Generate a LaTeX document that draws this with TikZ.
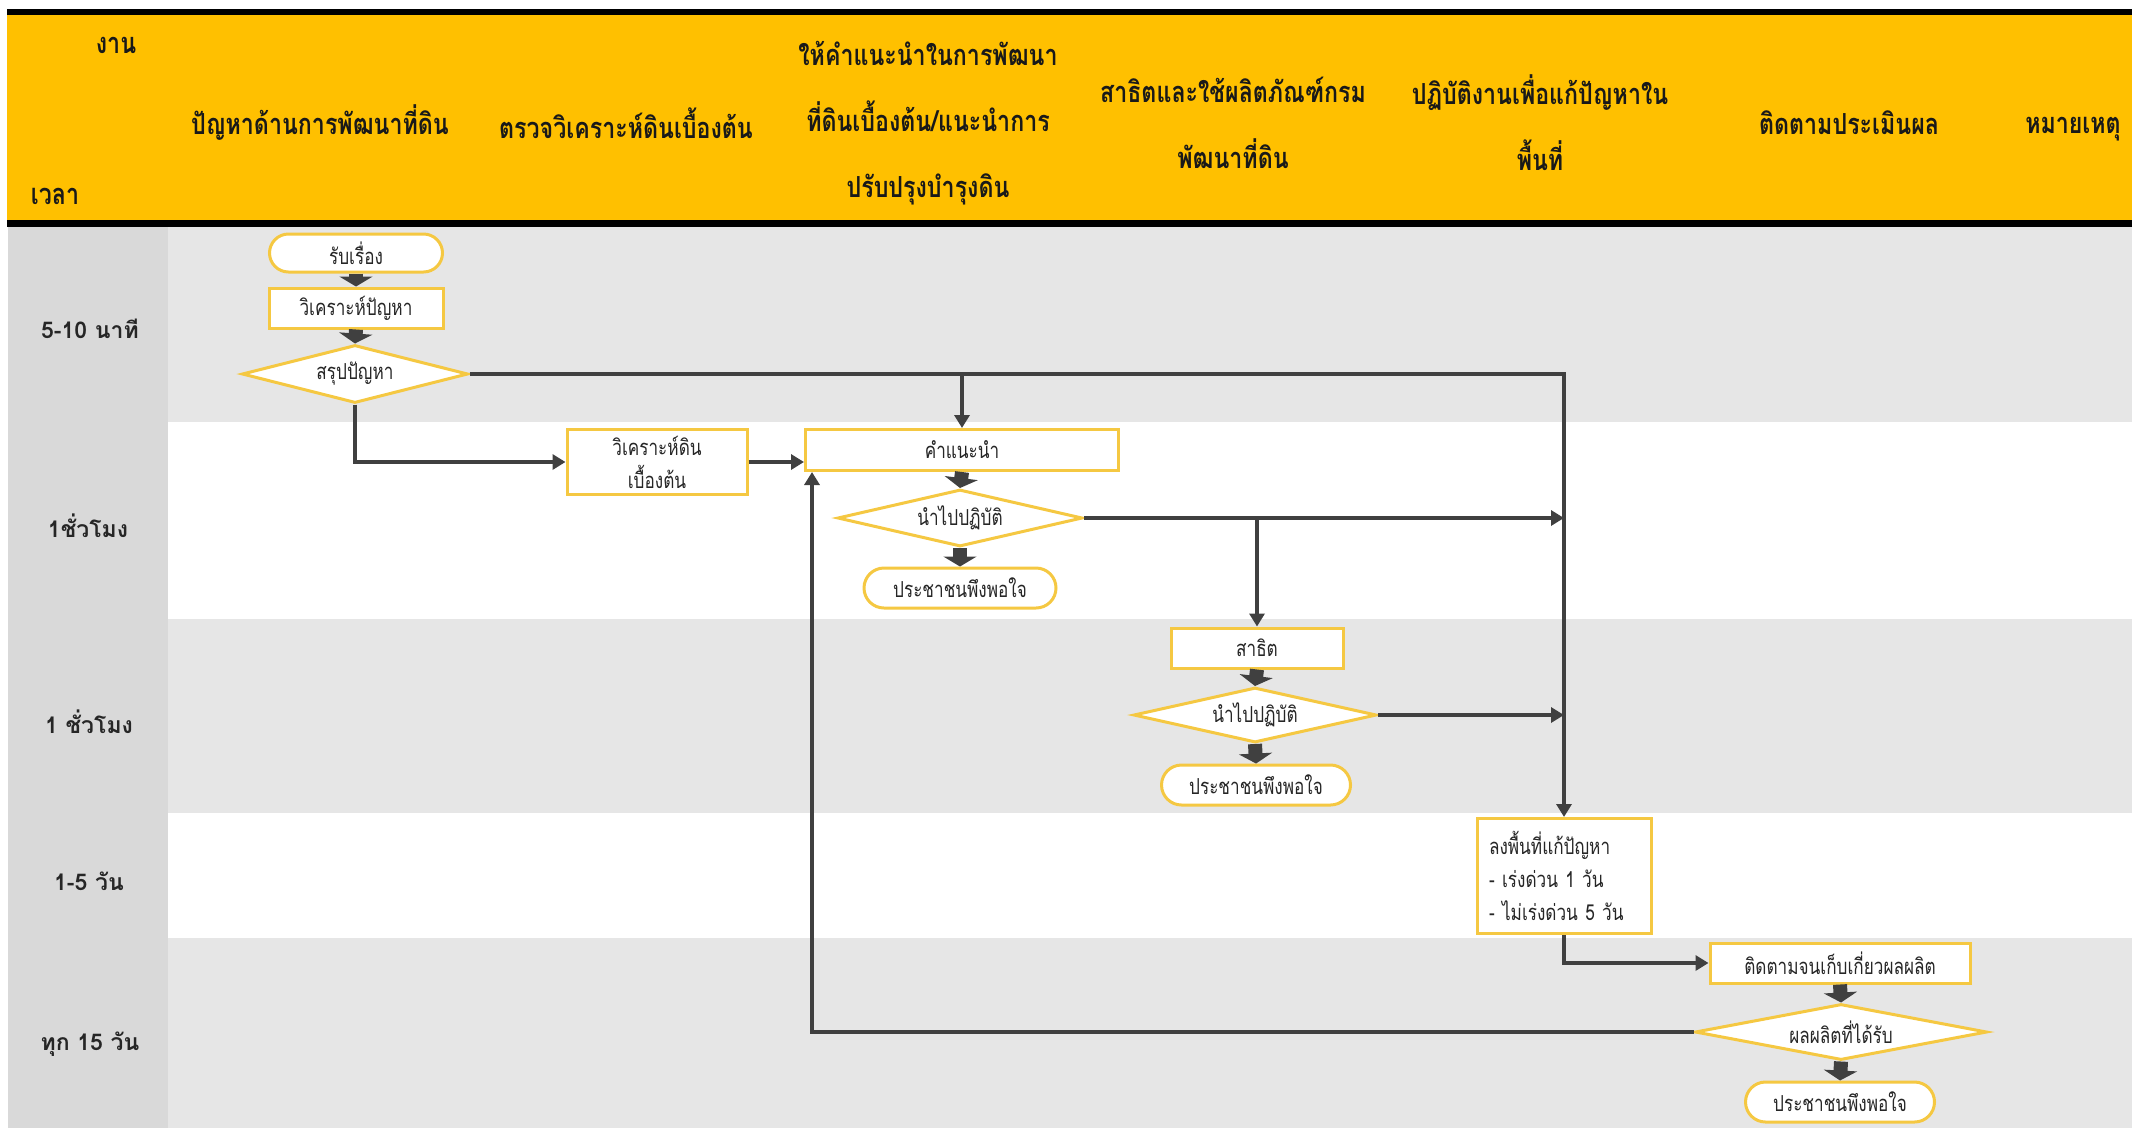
\documentclass[tikz,border=0pt]{standalone}
\usepackage{fontspec}
\usetikzlibrary{arrows.meta,shapes.geometric,calc}
\newfontfamily\thai[Script=Thai]{Loma}
\newfontfamily\thaic[Script=Thai,FakeStretch=0.78]{Loma}
\newfontfamily\thaihead[Script=Thai,FakeStretch=0.8]{Loma}
\definecolor{hdr}{HTML}{FFC000}
\definecolor{rowg}{HTML}{E6E6E6}
\definecolor{colg}{HTML}{D9D9D9}
\definecolor{nbord}{HTML}{F5C842}
\definecolor{arr}{HTML}{404040}
\tikzset{
 base/.style={draw=nbord, line width=3pt, fill=white, inner sep=0pt, font=\thaic\fontsize{22}{33}\selectfont, text=black!85},
 proc/.style={base, rectangle},
 term/.style={base, rectangle, rounded corners=19pt},
 dec/.style={base, diamond, inner sep=0pt},
 conn/.style={draw=arr, line width=3.5pt, -{Triangle[width=15pt,length=13pt]}},
 fat/.style={draw=arr, line width=14pt, -{Triangle[width=33pt,length=10pt]}},
 hd/.style={font=\thaihead\bfseries\fontsize{29}{66}\selectfont, align=center, text=black!90},
 tm/.style={font=\thai\bfseries\fontsize{23}{26}\selectfont, text=black!85},
}
\begin{document}
\begin{tikzpicture}[x=1pt,y=-1pt]
\useasboundingbox (0,0) rectangle (2132,1128);
% backgrounds
\fill[black] (7,9) rectangle (2132,15);
\fill[hdr] (7,15) rectangle (2132,220);
\fill[black] (7,220) rectangle (2132,227);
\fill[rowg] (168,227) rectangle (2132,422);
\fill[rowg] (168,619) rectangle (2132,813);
\fill[rowg] (168,938) rectangle (2132,1128);
\fill[colg] (8,227) rectangle (168,1128);
% header texts
\node[hd] (h0) at (116,45) {งาน};
\node[hd] (h00) at (55,196) {เวลา};
\node[hd] (h1) at (320,123) {ปัญหาด้านการพัฒนาที่ดิน};
\node[hd] (h2) at (626,123) {ตรวจวิเคราะห์ดินเบื้องต้น};
\node[hd] (h3) at (928,123) {ให้คำแนะนำในการพัฒนา\\ที่ดินเบื้องต้น/แนะนำการ\\ปรับปรุงบำรุงดิน};
\node[hd] (h4) at (1233,123) {สาธิตและใช้ผลิตภัณฑ์กรม\\พัฒนาที่ดิน};
\node[hd] (h5) at (1540,123) {ปฏิบัติงานเพื่อแก้ปัญหาใน\\พื้นที่};
\node[hd] (h6) at (1849,123) {ติดตามประเมินผล};
\node[hd] (h7) at (2073,129) {หมายเหตุ};
% time labels
\node[tm] (t1) at (90,329) {5-10 นาที};
\node[tm] (t2) at (88,526) {1ชั่วโมง};
\node[tm] (t3) at (89,722) {1 ชั่วโมง};
\node[tm] (t4) at (89,881) {1-5 วัน};
\node[tm] (t5) at (90,1044) {ทุก 15 วัน};
% nodes
\node[term, minimum width=173pt, minimum height=38pt] (recv) at (356,253) {รับเรื่อง};
\node[proc, minimum width=174pt, minimum height=40pt] (anal) at (356,308) {วิเคราะห์ปัญหา};
\node[dec, aspect=3.9, minimum width=226pt, minimum height=58pt] (sum) at (355,374) {สรุปปัญหา};
\node[proc, minimum width=180pt, minimum height=65pt, align=center] (soil) at (657,462) {วิเคราะห์ดิน\\เบื้องต้น};
\node[proc, minimum width=313pt, minimum height=41pt] (advice) at (962,450) {คำแนะนำ};
\node[dec, aspect=4.3, minimum width=245pt, minimum height=57pt] (do1) at (960,518) {นำไปปฏิบัติ};
\node[term, minimum width=192pt, minimum height=40pt, rounded corners=20pt] (sat1) at (960,588) {ประชาชนพึงพอใจ};
\node[proc, minimum width=172pt, minimum height=40pt] (demo) at (1257,648) {สาธิต};
\node[dec, aspect=4.4, minimum width=243pt, minimum height=55pt] (do2) at (1255,715) {นำไปปฏิบัติ};
\node[term, minimum width=189pt, minimum height=40pt, rounded corners=20pt] (sat2) at (1256,785) {ประชาชนพึงพอใจ};
\node[proc, minimum width=174pt, minimum height=115pt, align=left, text width=150pt] (field) at (1564,876) {ลงพื้นที่แก้ปัญหา\\- เร่งด่วน 1 วัน\\- ไม่เร่งด่วน 5 วัน};
\node[proc, minimum width=260pt, minimum height=40pt] (follow) at (1840,963) {ติดตามจนเก็บเกี่ยวผลผลิต};
\node[dec, aspect=5.2, minimum width=292pt, minimum height=56pt] (yield) at (1841,1032) {ผลผลิตที่ได้รับ};
\node[term, minimum width=189pt, minimum height=40pt, rounded corners=20pt] (sat3) at (1840,1102) {ประชาชนพึงพอใจ};
% connectors
\draw[fat] (recv.south) -- (anal.north);
\draw[fat] (anal.south) -- (sum.north);
\draw[conn] (sum.south) |- (soil.west);
\draw[conn] (sum.east) -| (field.north);
\draw[conn] (advice.north |- sum.east) -- (advice.north);
\draw[conn] (soil.east) -- (advice.west |- soil.east);
\draw[fat] (advice.south) -- (do1.north);
\draw[fat] (do1.south) -- (sat1.north);
\draw[conn] (do1.east) -- (field.north |- do1.east);
\draw[conn] (demo.north |- do1.east) -- (demo.north);
\draw[fat] (demo.south) -- (do2.north);
\draw[fat] (do2.south) -- (sat2.north);
\draw[conn] (do2.east) -- (field.north |- do2.east);
\draw[conn] (field.south) |- (follow.west);
\draw[fat] (follow.south) -- (yield.north);
\draw[fat] (yield.south) -- (sat3.north);
\coordinate (fb) at ([xshift=8pt]advice.south west);
\draw[conn] (yield.west) -| (fb);
\end{tikzpicture}
\end{document}
